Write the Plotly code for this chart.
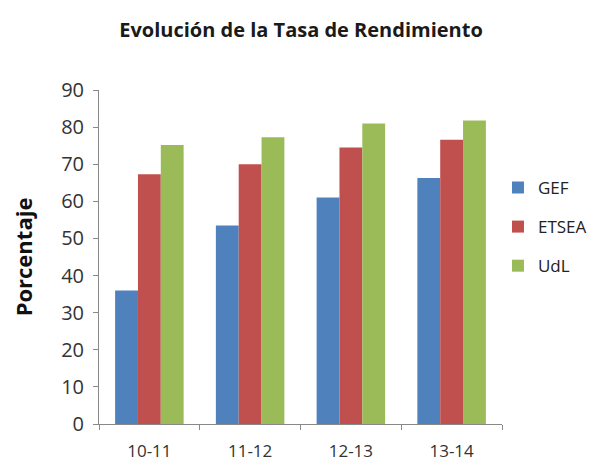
import plotly.graph_objects as go

categories = ["10-11", "11-12", "12-13", "13-14"]
gef = [36, 53.5, 61, 66.3]
etsea = [67.3, 70, 74.5, 76.6]
udl = [75.2, 77.3, 81, 81.8]
series_names = ["GEF", "ETSEA", "UdL"]
colors = ["#4F81BD", "#C0504D", "#9BBB59"]

fig = go.Figure()
for i, (name, vals) in enumerate(zip(series_names, [gef, etsea, udl])):
    fig.add_trace(go.Bar(x=categories, y=vals, name=name, marker_color=colors[i],
                         marker_line_width=0, legendgroup=name))

font_family = "Open Sans, Liberation Sans, sans-serif"
# the page body adds an 8px offset; margins compensate for it
fig.update_layout(
    width=601, height=466,
    margin=dict(l=91, r=107, t=82, b=50, autoexpand=False),
    paper_bgcolor="white", plot_bgcolor="white",
    barmode="group", bargap=0.32, bargroupgap=0,
    title=dict(text="<b>Evolución de la Tasa de Rendimiento</b>", x=(301 - 8) / 601, xanchor="center",
               y=1 - 22/466, yanchor="middle",
               font=dict(family=font_family, size=20, color="#1a1a1a")),
    legend=dict(x=0.99, xanchor="left", y=0.59, yanchor="middle",
                font=dict(family=font_family, size=17, color="#222"),
                traceorder="grouped", tracegroupgap=14, itemwidth=30),
    font=dict(family=font_family),
)
fig.update_yaxes(range=[0, 90], dtick=10, showgrid=False, showline=True, linecolor="#888",
                 linewidth=1, ticks="outside", ticklen=5, tickcolor="#888",
                 ticklabelstandoff=5, automargin=False,
                 tickfont=dict(size=20, color="#333"),
                 title=dict(text="<b>Porcentaje</b>", font=dict(size=22, color="#111"), standoff=22))
fig.update_xaxes(type="category", showline=True, linecolor="#888", linewidth=1, ticks="outside",
                 tickson="boundaries", ticklen=5, tickcolor="#888", ticklabelstandoff=12,
                 automargin=False,
                 tickfont=dict(size=17, color="#333"))

fig.write_html("out.html")
